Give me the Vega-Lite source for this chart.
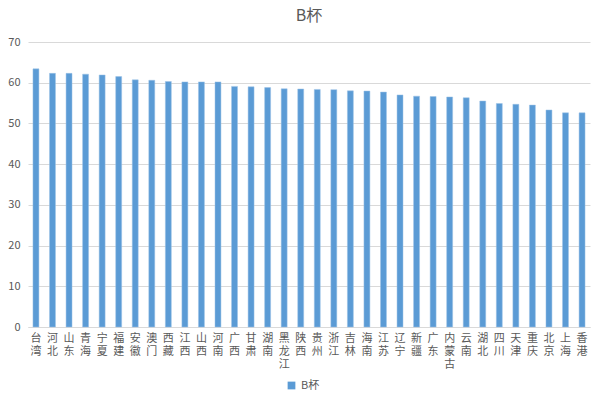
{
  "$schema": "https://vega.github.io/schema/vega-lite/v6.json",
  "width": 562,
  "height": 285,
  "autosize": "none",
  "padding": {"left": 28, "top": 42, "right": 10, "bottom": 73},
  "background": "white",
  "config": {
    "font": "Noto Sans CJK SC",
    "view": {"stroke": null}
  },
  "title": {
    "text": "B杯",
    "fontSize": 16,
    "fontWeight": "normal",
    "color": "#595959",
    "offset": 12,
    "anchor": "middle"
  },
  "data": {
    "values": [
      {"province": "台湾", "value": 63.4},
      {"province": "河北", "value": 62.3},
      {"province": "山东", "value": 62.3},
      {"province": "青海", "value": 62.1},
      {"province": "宁夏", "value": 61.9},
      {"province": "福建", "value": 61.5},
      {"province": "安徽", "value": 60.7},
      {"province": "澳门", "value": 60.6},
      {"province": "西藏", "value": 60.3},
      {"province": "江西", "value": 60.2},
      {"province": "山西", "value": 60.2},
      {"province": "河南", "value": 60.2},
      {"province": "广西", "value": 59.1},
      {"province": "甘肃", "value": 59.0},
      {"province": "湖南", "value": 58.8},
      {"province": "黑龙江", "value": 58.5},
      {"province": "陕西", "value": 58.45},
      {"province": "贵州", "value": 58.35},
      {"province": "浙江", "value": 58.3},
      {"province": "吉林", "value": 58.0},
      {"province": "海南", "value": 57.95},
      {"province": "江苏", "value": 57.7},
      {"province": "辽宁", "value": 57.0},
      {"province": "新疆", "value": 56.7},
      {"province": "广东", "value": 56.6},
      {"province": "内蒙古", "value": 56.5},
      {"province": "云南", "value": 56.3},
      {"province": "湖北", "value": 55.5},
      {"province": "四川", "value": 54.9},
      {"province": "天津", "value": 54.7},
      {"province": "重庆", "value": 54.5},
      {"province": "北京", "value": 53.3},
      {"province": "上海", "value": 52.6},
      {"province": "香港", "value": 52.6}
    ]
  },
  "mark": {"type": "bar", "stroke": "#9DC3E6", "strokeWidth": 0.5},
  "encoding": {
    "x": {
      "field": "province",
      "type": "nominal",
      "sort": null,
      "scale": {"paddingInner": 0.64, "paddingOuter": 0.3},
      "axis": {
        "title": null,
        "labelAngle": 0,
        "labelExpr": "split(datum.label, '')",
        "labelLineHeight": 13,
        "labelFontSize": 11,
        "labelColor": "#595959",
        "labelBaseline": "top",
        "labelPadding": 5,
        "ticks": false,
        "domainColor": "#D9D9D9",
        "grid": false
      }
    },
    "y": {
      "field": "value",
      "type": "quantitative",
      "scale": {"domain": [0, 70]},
      "axis": {
        "title": null,
        "values": [0, 10, 20, 30, 40, 50, 60, 70],
        "labelFontSize": 11,
        "labelColor": "#595959",
        "labelPadding": 8,
        "ticks": false,
        "domain": false,
        "gridColor": "#D9D9D9"
      }
    },
    "color": {
      "datum": "B杯",
      "type": "nominal",
      "scale": {"range": ["#5B9BD5"]},
      "legend": {
        "title": null,
        "orient": "none",
        "legendX": 258,
        "legendY": 338,
        "symbolType": "square",
        "symbolSize": 60,
        "symbolStrokeWidth": 0,
        "labelFontSize": 11,
        "labelColor": "#595959"
      }
    }
  }
}
